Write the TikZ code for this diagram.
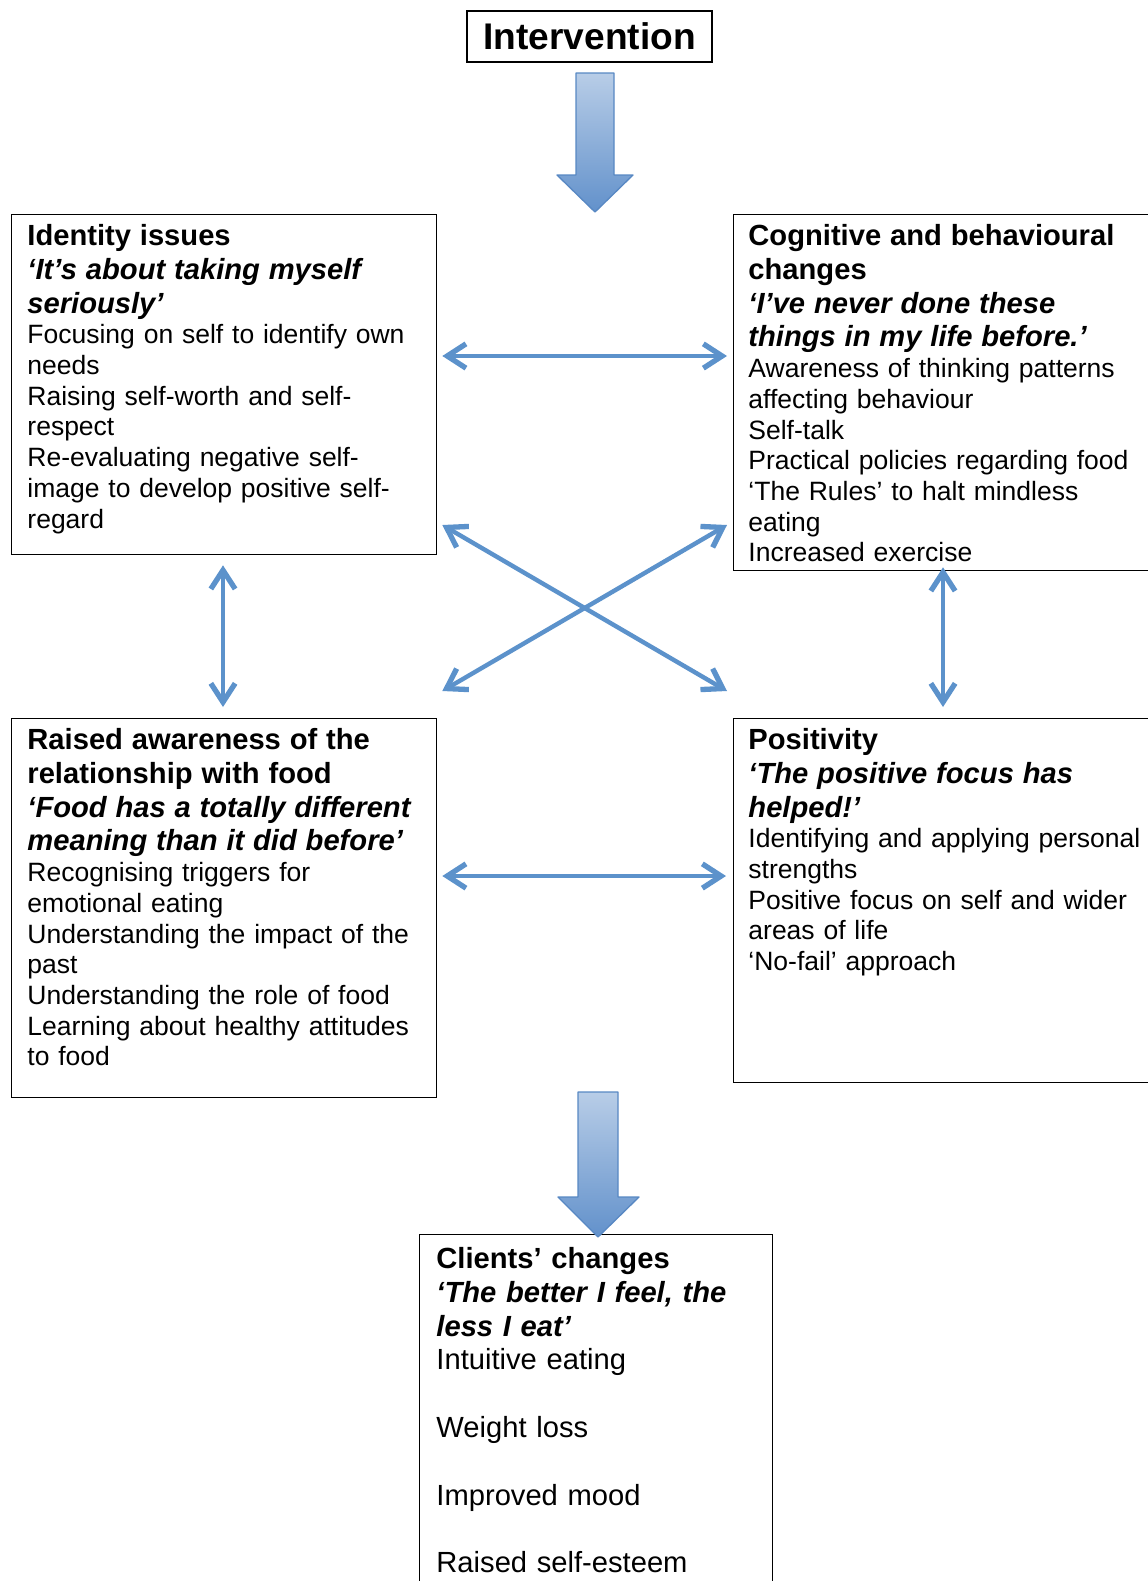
\documentclass[tikz,border=0pt]{standalone}
\usepackage{fontspec}
\setmainfont{Liberation Sans}
\usetikzlibrary{arrows.meta}

\definecolor{linkblue}{RGB}{92,146,203}
\definecolor{arrowtop}{RGB}{184,205,231}
\definecolor{arrowbot}{RGB}{98,145,203}
\definecolor{arrowline}{RGB}{88,136,195}

\newlength{\unitpx}
\setlength{\unitpx}{0.4528pt}
\newcommand{\headfont}{\fontsize{13.2}{15.3}\selectfont\bfseries}
\newcommand{\quotefont}{\fontsize{13.2}{15.3}\selectfont\bfseries\itshape}
\newcommand{\bodyfont}{\fontsize{12}{13.9}\selectfont}
\newcommand{\bigbodyfont}{\fontsize{13.2}{15.3}\selectfont}

\begin{document}
\begin{tikzpicture}[
        x=0.4528pt, y=-0.4528pt,
        theme/.style={draw, line width=0.6pt, anchor=north west, minimum width=425\unitpx, inner sep=0pt},
        body/.style={anchor=north west, inner sep=0pt, text width=440\unitpx, align=left, font=\bodyfont},
        link/.style={{Straight Barb[length=8.5pt,width=11pt,line width=2.4pt]}-{Straight Barb[length=8.5pt,width=11pt,line width=2.4pt]},
                     linkblue, line width=2pt, line cap=round, line join=round},
        flow/.style={top color=arrowtop, bottom color=arrowbot, draw=arrowline, line width=0.6pt, line join=round}
    ]
        \useasboundingbox (0,0) rectangle (1147,1581);

        % Start
        \node[draw, line width=0.6pt, minimum width=245\unitpx, minimum height=51\unitpx, inner sep=0pt,
              font=\fontsize{16.8}{20}\selectfont\bfseries] (intervention) at (589.5,36.5) {Intervention};

        % Theme boxes
        \node[theme, minimum height=340\unitpx] (identity) at (11,214) {};
        \node[theme, minimum height=356\unitpx] (cognitive) at (733,214) {};
        \node[theme, minimum height=379\unitpx] (awareness) at (11,718) {};
        \node[theme, minimum height=364\unitpx] (positivity) at (733,718) {};
        \node[theme, minimum width=353\unitpx, minimum height=380\unitpx] (clients) at (419,1234) {};

        % Theme texts
        \node[body] (identity_txt) at ([shift={(16,10)}]identity.north west) {%
            {\headfont Identity issues\\ \quotefont ‘It’s about taking myself\\ seriously’\\}
            Focusing on self to identify own\\ needs\\ Raising self-worth and self-\\ respect\\
            Re-evaluating negative self-\\ image to develop positive self-\\ regard};
        \node[body] (cognitive_txt) at ([shift={(15,10)}]cognitive.north west) {%
            {\headfont Cognitive and behavioural\\ changes\\ \quotefont ‘I’ve never done these\\ things in my life before.’\\}
            Awareness of thinking patterns\\ affecting behaviour\\ Self-talk\\ Practical policies regarding food\\
            ‘The Rules’ to halt mindless\\ eating\\ Increased exercise};
        \node[body] (awareness_txt) at ([shift={(16,10)}]awareness.north west) {%
            {\headfont Raised awareness of the\\ relationship with food\\ \quotefont ‘Food has a totally different\\ meaning than it did before’\\}
            Recognising triggers for\\ emotional eating\\ Understanding the impact of the\\ past\\
            Understanding the role of food\\ Learning about healthy attitudes\\ to food};
        \node[body] (positivity_txt) at ([shift={(15,10)}]positivity.north west) {%
            {\headfont Positivity\\ \quotefont ‘The positive focus has\\ helped!’\\}
            Identifying and applying personal\\ strengths\\ Positive focus on self and wider\\ areas of life\\
            ‘No-fail’ approach};
        \node[body, font=\bigbodyfont] (clients_txt) at ([shift={(17,13)}]clients.north west) {%
            {\headfont Clients’ changes\\ \quotefont ‘The better I feel, the\\ less I eat’\\}
            Intuitive eating\\[15.3pt] Weight loss\\[15.3pt] Improved mood\\[15.3pt] Raised self-esteem};

        % Links between themes
        \draw[link] ([shift={(5,142)}]identity.north east) -- ([shift={(-6,142)}]cognitive.north west);
        \draw[link] ([shift={(5,311)}]identity.north east) -- ([shift={(-6,-27)}]positivity.north west);
        \draw[link] ([shift={(-6,311)}]cognitive.north west) -- ([shift={(5,-27)}]awareness.north east);
        \draw[link] ([shift={(212,10)}]identity.south west) -- ([shift={(212,-11)}]awareness.north west);
        \draw[link] ([shift={(210,-4)}]cognitive.south west) -- ([shift={(210,-11)}]positivity.north west);
        \draw[link] ([shift={(5,158)}]awareness.north east) -- ([shift={(-7,158)}]positivity.north west);

        % Flow in and out
        \shadedraw[flow] (576,73) -- (614,73) -- (614,175) -- (633,175) -- (595,212) -- (557,175) -- (576,175) -- cycle;
        \shadedraw[flow] (578,1092) -- (618,1092) -- (618,1197) -- (639,1197) -- (598,1237) -- (558,1197) -- (578,1197) -- cycle;
\end{tikzpicture}
\end{document}
